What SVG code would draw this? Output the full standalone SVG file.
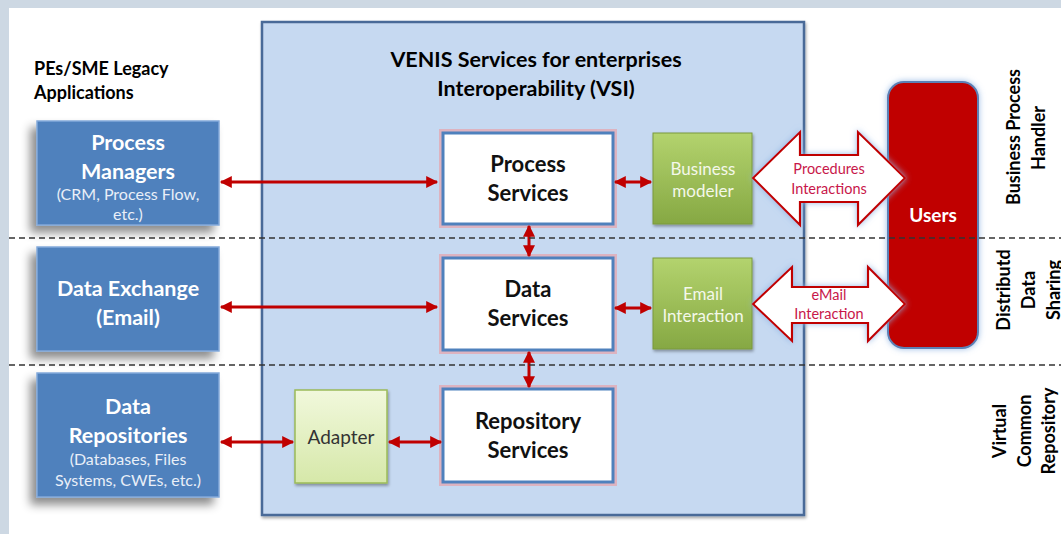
<svg xmlns="http://www.w3.org/2000/svg" width="1061" height="534" viewBox="0 0 1061 534">
<defs>
<style>
text{font-family:Lato,"Open Sans","Liberation Sans",sans-serif}
.lbl{font-weight:bold;fill:#000}
.bt{font-weight:bold;fill:#fff;font-size:21.5px;text-anchor:middle}
.bs{fill:#e9eff8;font-size:16px;text-anchor:middle}
.svc{fill:#fff;stroke:#4f81bd;stroke-width:3}
.glow{fill:none;stroke:#e7a3ab;stroke-width:8;opacity:.7}
.st{font-weight:bold;font-size:22px;text-anchor:middle;fill:#111}
.gt{fill:#f4f8ea;font-size:17px;text-anchor:middle}
.at{fill:#c8174a;font-size:14.5px;text-anchor:middle}
.rl{font-weight:bold;font-size:18px;text-anchor:middle;fill:#000}
.conn{stroke:#c00000;stroke-width:3;fill:none;marker-start:url(#ah);marker-end:url(#ah)}
.big{fill:#fff;stroke:#c00000;stroke-width:2.2;stroke-linejoin:miter}
.dash{stroke:#333;stroke-width:1.5;stroke-dasharray:6 4;fill:none}
</style>
<marker id="ah" viewBox="0 0 10 10" refX="9" refY="5" markerWidth="14" markerHeight="12" markerUnits="userSpaceOnUse" orient="auto-start-reverse">
<path d="M0,0 L10,5 L0,10 z" fill="#c00000"/>
</marker>
<filter id="sh" x="-30%" y="-30%" width="160%" height="160%">
<feDropShadow dx="-6" dy="7" stdDeviation="5" flood-color="#000" flood-opacity="0.45"/>
</filter>
<filter id="sh2" x="-10%" y="-10%" width="120%" height="120%">
<feDropShadow dx="1" dy="2" stdDeviation="1.5" flood-color="#000" flood-opacity="0.35"/>
</filter>
<filter id="bglow" x="-20%" y="-20%" width="140%" height="140%">
<feDropShadow dx="0" dy="0" stdDeviation="3" flood-color="#8fb4e3" flood-opacity="0.9"/>
</filter>
<linearGradient id="gg" x1="0" y1="0" x2="0" y2="1">
<stop offset="0" stop-color="#b3d36e"/>
<stop offset="1" stop-color="#86a843"/>
</linearGradient>
<linearGradient id="ga" x1="0" y1="0" x2="0" y2="1">
<stop offset="0" stop-color="#f1f8dc"/>
<stop offset="1" stop-color="#d6e8a9"/>
</linearGradient>
</defs>

<rect x="0" y="0" width="1061" height="534" fill="#cdd8e3"/>
<rect x="9" y="8" width="1052" height="526" fill="#fff"/>

<g id="legacy-title">
<text class="lbl" x="34" y="75" font-size="18">PEs/SME Legacy</text>
<text class="lbl" x="34" y="99" font-size="18">Applications</text>
</g>

<g id="vsi">
<rect x="262" y="22" width="542" height="493" fill="#c6d9f1" stroke="#4a6a98" stroke-width="2.5" filter="url(#sh2)"/>
<text class="lbl" x="536" y="67" font-size="21.5" text-anchor="middle">VENIS Services for enterprises</text>
<text class="lbl" x="536" y="96" font-size="21.5" text-anchor="middle">Interoperability (VSI)</text>
</g>

<g id="process-managers">
<rect x="37" y="121" width="182" height="104" fill="#4f81bd" stroke="#83a9da" stroke-width="1.5" filter="url(#sh)"/>
<text class="bt" x="128" y="150">Process</text>
<text class="bt" x="128" y="179">Managers</text>
<text class="bs" x="128" y="200">(CRM, Process Flow,</text>
<text class="bs" x="128" y="220">etc.)</text>
</g>

<g id="data-exchange">
<rect x="37" y="247" width="182" height="104" fill="#4f81bd" stroke="#83a9da" stroke-width="1.5" filter="url(#sh)"/>
<text class="bt" x="128" y="296">Data Exchange</text>
<text class="bt" x="128" y="325">(Email)</text>
</g>

<g id="data-repositories">
<rect x="37" y="373" width="182" height="124" fill="#4f81bd" stroke="#83a9da" stroke-width="1.5" filter="url(#sh)"/>
<text class="bt" x="128" y="414">Data</text>
<text class="bt" x="128" y="443">Repositories</text>
<text class="bs" x="128" y="465">(Databases, Files</text>
<text class="bs" x="128" y="486">Systems, CWEs, etc.)</text>
</g>

<g id="process-services">
<rect class="glow" x="443" y="133" width="170" height="91"/>
<rect class="svc" x="443" y="133" width="170" height="91"/>
<text class="st" x="528" y="172">Process</text>
<text class="st" x="528" y="201">Services</text>
</g>

<g id="data-services">
<rect class="glow" x="443" y="258" width="170" height="92"/>
<rect class="svc" x="443" y="258" width="170" height="92"/>
<text class="st" x="528" y="297">Data</text>
<text class="st" x="528" y="326">Services</text>
</g>

<g id="repository-services">
<rect class="glow" x="443" y="389" width="170" height="93"/>
<rect class="svc" x="443" y="389" width="170" height="93"/>
<text class="st" x="528" y="429">Repository</text>
<text class="st" x="528" y="458">Services</text>
</g>

<g id="adapter">
<rect x="295" y="390" width="92" height="93" fill="url(#ga)" stroke="#9bbb59" stroke-width="1.5" filter="url(#sh2)"/>
<text x="341" y="444" font-size="19" text-anchor="middle" fill="#333">Adapter</text>
</g>

<g id="business-modeler">
<rect x="653" y="133" width="99" height="91" fill="url(#gg)" stroke="#7b9a3c" stroke-width="1" filter="url(#sh2)"/>
<text class="gt" x="703" y="175">Business</text>
<text class="gt" x="703" y="197">modeler</text>
</g>

<g id="email-interaction">
<rect x="653" y="258" width="99" height="91" fill="url(#gg)" stroke="#7b9a3c" stroke-width="1" filter="url(#sh2)"/>
<text class="gt" x="703" y="300">Email</text>
<text class="gt" x="703" y="322">Interaction</text>
</g>

<g id="users">
<rect x="888" y="82" width="90" height="266" rx="16" ry="16" fill="#c00000" stroke="#5b80b5" stroke-width="2" filter="url(#bglow)"/>
<text x="933" y="222" font-size="19" font-weight="bold" fill="#fff" text-anchor="middle">Users</text>
</g>

<g id="connectors">
<line class="conn" x1="221" y1="182" x2="437" y2="182"/>
<line class="conn" x1="221" y1="307" x2="437" y2="307"/>
<line class="conn" x1="221" y1="442" x2="293" y2="442"/>
<line class="conn" x1="389" y1="442" x2="441" y2="442"/>
<line class="conn" x1="615" y1="182" x2="651" y2="182"/>
<line class="conn" x1="615" y1="308" x2="651" y2="308"/>
<line class="conn" x1="529" y1="226" x2="529" y2="256"/>
<line class="conn" x1="529" y1="352" x2="529" y2="387"/>
<g filter="url(#bglow)">
<path class="big" d="M753,178 L800,132 L800,155 L858,155 L858,132 L905,178 L858,225 L858,202 L800,202 L800,225 Z"/>
<path class="big" d="M753,304 L792,267 L792,287 L868,287 L868,267 L905,304 L868,341 L868,323 L792,323 L792,341 Z"/>
</g>
<text class="at" x="829" y="174">Procedures</text>
<text class="at" x="829" y="194">Interactions</text>
<text class="at" x="829" y="300">eMail</text>
<text class="at" x="829" y="319">Interaction</text>
</g>

<g id="separators">
<line class="dash" x1="9" y1="238" x2="1061" y2="238"/>
<line class="dash" x1="9" y1="365" x2="1061" y2="365"/>
</g>

<g id="layer-labels">
<text class="rl" transform="translate(1020,137) rotate(-90)">Business Process</text>
<text class="rl" transform="translate(1045,138) rotate(-90)">Handler</text>
<text class="rl" transform="translate(1010,290) rotate(-90)">Distributd</text>
<text class="rl" transform="translate(1035,290) rotate(-90)">Data</text>
<text class="rl" transform="translate(1060,290) rotate(-90)">Sharing</text>
<text class="rl" transform="translate(1006,431) rotate(-90)">Virtual</text>
<text class="rl" transform="translate(1031,431) rotate(-90)">Common</text>
<text class="rl" transform="translate(1055,431) rotate(-90)">Repository</text>
</g>
</svg>
